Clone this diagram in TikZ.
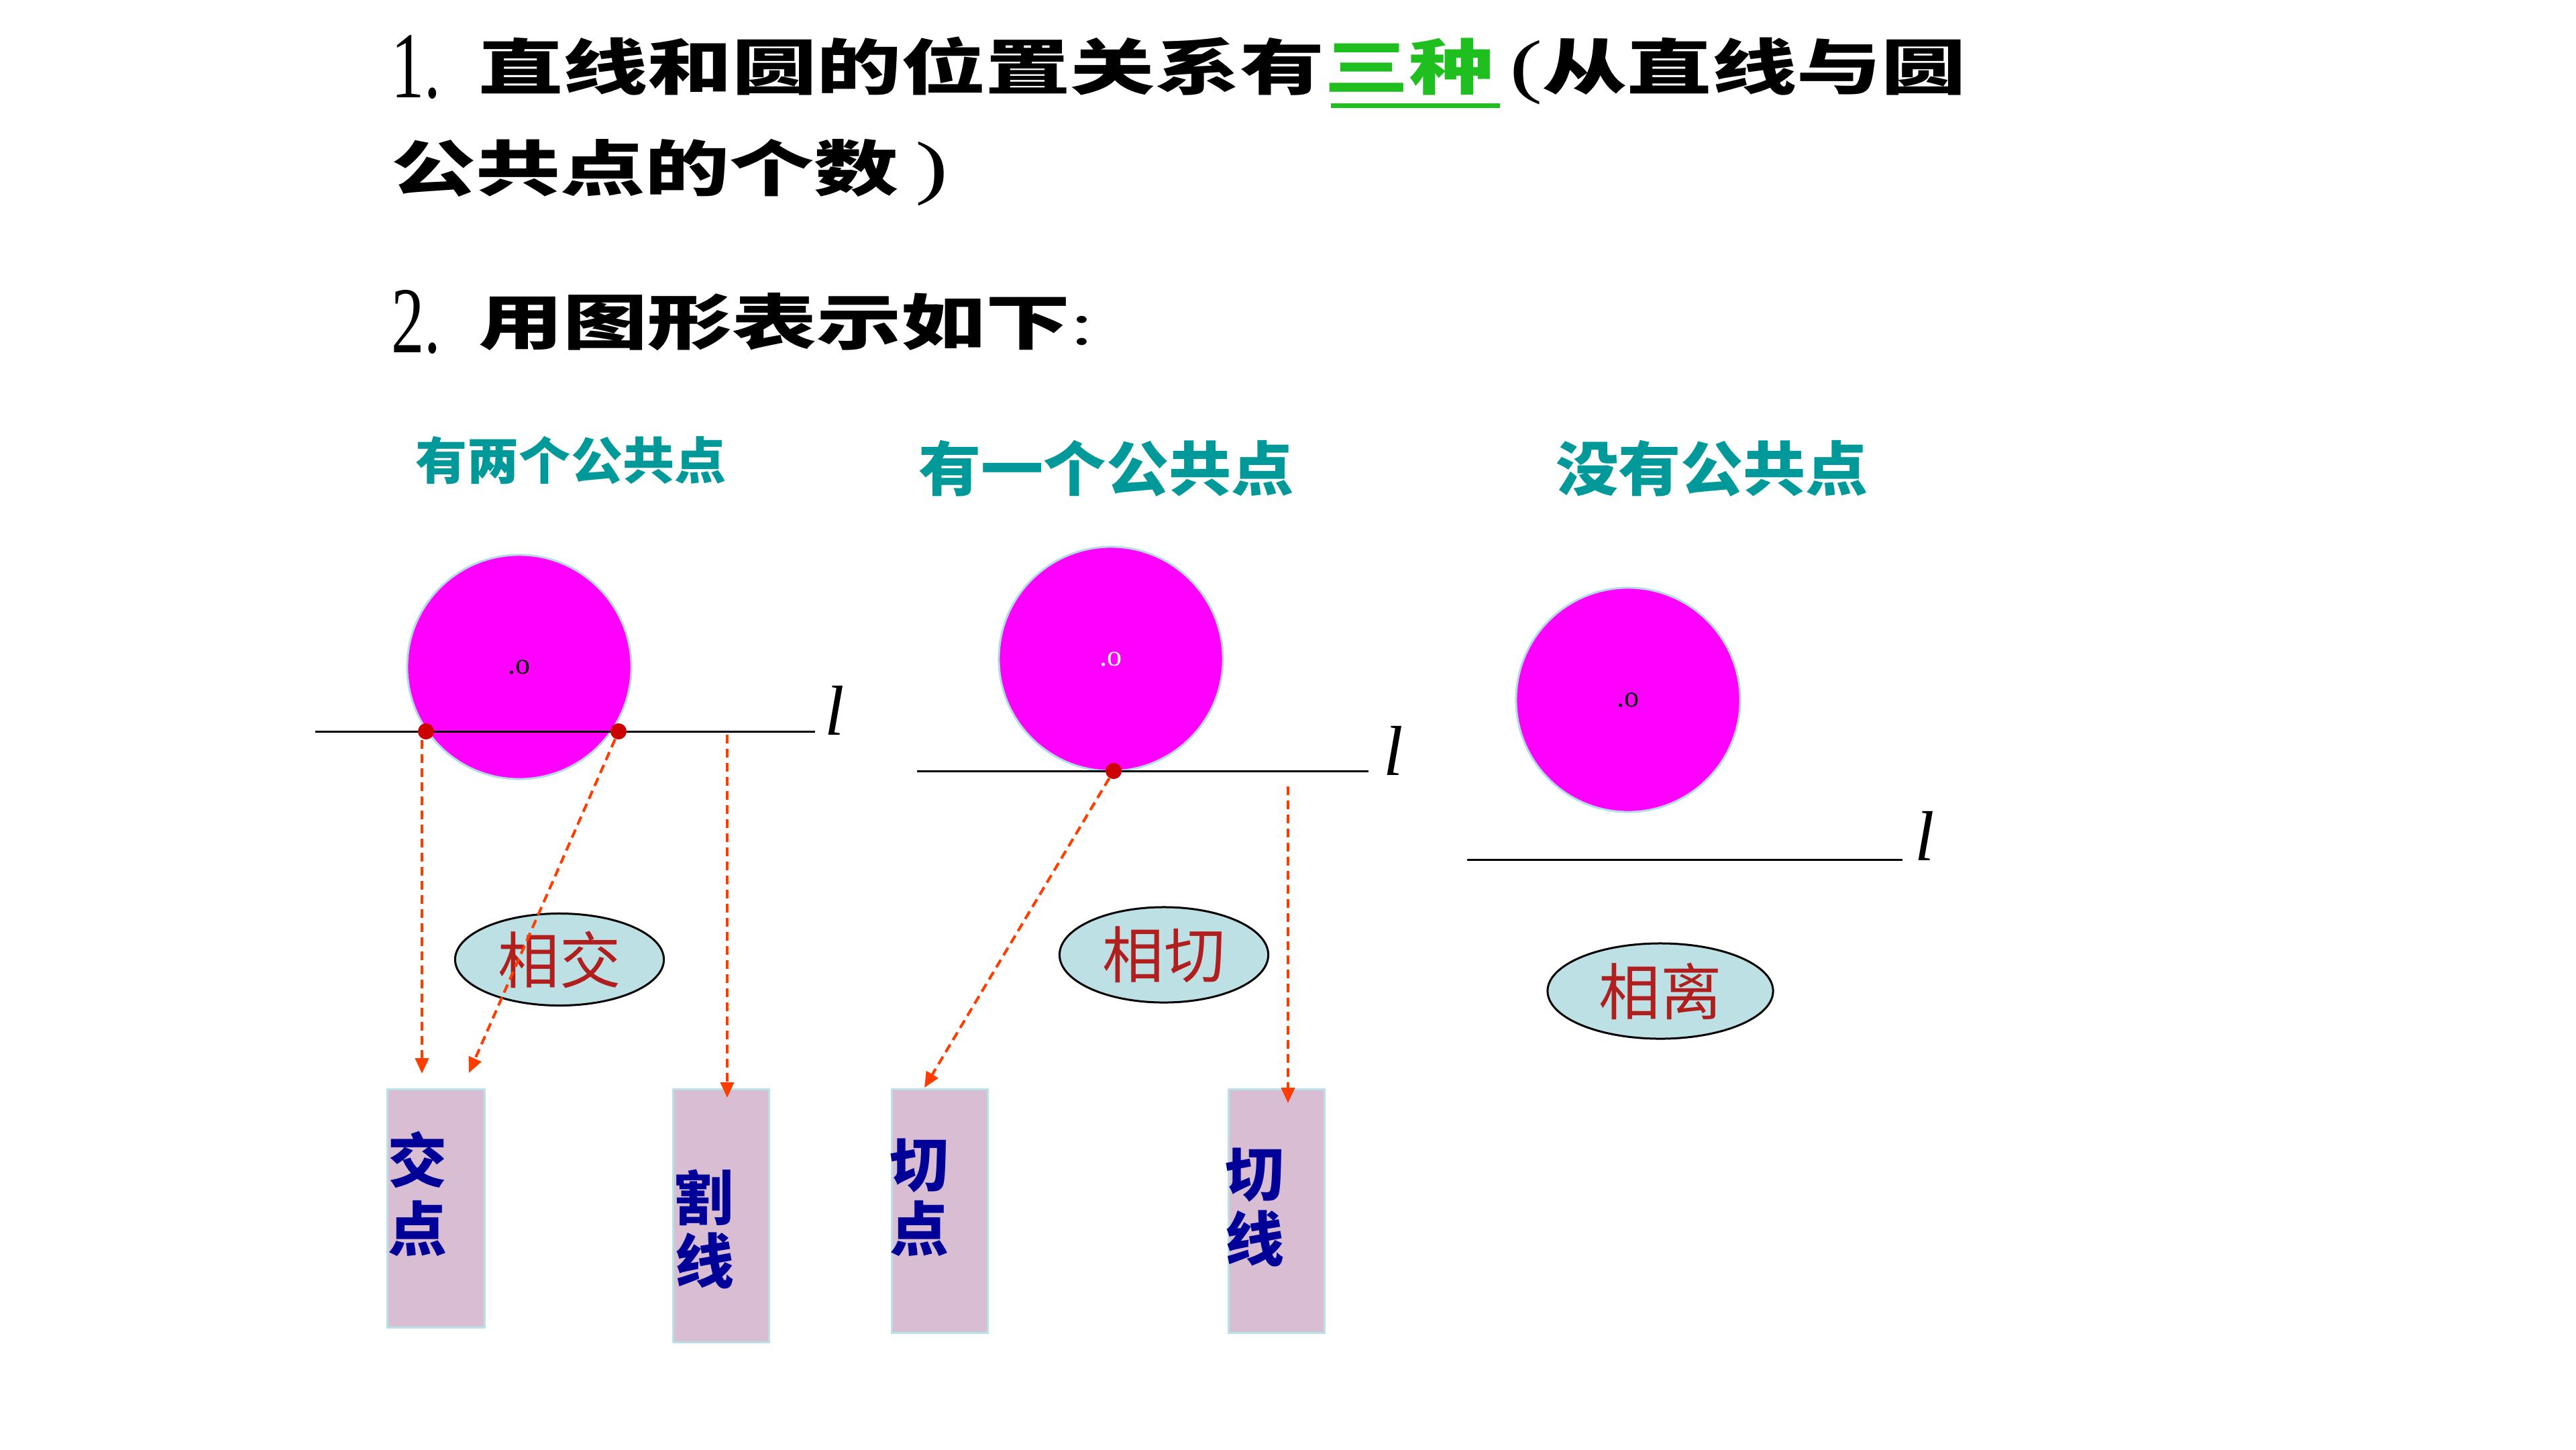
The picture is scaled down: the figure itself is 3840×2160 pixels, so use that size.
\documentclass[tikz,border=0pt]{standalone}
\usepackage{fontspec}
\setmainfont{Liberation Serif}
\newfontfamily\cjk{Noto Sans CJK SC}
\usetikzlibrary{shapes.geometric,arrows.meta}
\definecolor{ballc}{HTML}{FF00FF}
\definecolor{ballrim}{HTML}{B4DCE4}
\definecolor{dotc}{HTML}{CC0000}
\definecolor{arrc}{HTML}{FF3D00}
\definecolor{ovalc}{HTML}{BCE0E3}
\definecolor{boxc}{HTML}{D9BDD3}
\definecolor{boxrim}{HTML}{B9E2E8}
\definecolor{hdrc}{HTML}{009999}
\definecolor{boxtxt}{HTML}{000099}
\definecolor{ovaltxt}{HTML}{B01E1E}
\definecolor{grn}{HTML}{1FBF1F}
\newcommand\myxs[2]{\scalebox{#1}[1]{#2}}
\begin{document}
\begin{tikzpicture}[x=0.01cm,y=-0.01cm,
  title/.style={font=\cjk\bfseries\fontsize{25.6pt}{30pt}\selectfont, inner sep=0, anchor=west},
  num/.style={font=\rmfamily\fontsize{40pt}{40pt}\selectfont, inner sep=0, anchor=west},
  hdrA/.style={font=\cjk\bfseries\fontsize{21.3pt}{24pt}\selectfont, text=hdrc, inner sep=0},
  hdrB/.style={font=\cjk\bfseries\fontsize{25pt}{28pt}\selectfont, text=hdrc, inner sep=0},
  ball/.style={circle, minimum size=3.34cm, inner sep=0, fill=ballc, draw=ballrim, line width=0.03cm, font=\rmfamily\fontsize{12.5pt}{13pt}\selectfont},
  dot/.style={circle, inner sep=0, minimum size=0.24cm, fill=dotc},
  lin/.style={line width=0.03cm, draw=black},
  ltr/.style={font=\rmfamily\itshape\fontsize{30pt}{30pt}\selectfont, inner sep=0},
  arr/.style={draw=arrc, line width=0.04cm, dash pattern=on 0.13cm off 0.08cm, -{Triangle[length=0.23cm,width=0.2cm]}},
  oval/.style={ellipse, draw=black, fill=ovalc, line width=0.03cm, inner sep=0, font=\cjk\fontsize{26pt}{28pt}\selectfont, text=ovaltxt},
  boxn/.style={rectangle, draw=boxrim, fill=boxc, line width=0.03cm, inner sep=0},
  btxt/.style={font=\cjk\bfseries\fontsize{25pt}{28pt}\selectfont, text=boxtxt, inner sep=0}]
\useasboundingbox (0,0) rectangle (3840,2160);
\fill[white] (0,0) rectangle (3840,2160);

% title text
\node[num] (n1) at (583,100) {\myxs{0.7}{1.}};
\node[title] (tl1) at (713,105) {\myxs{1.4}{直线和圆的位置关系有\textcolor{grn}{三种}{\rmfamily\mdseries\fontsize{30pt}{30pt}\selectfont\,(}从直线与圆}};
\draw[grn, line width=0.07cm] (1984,157) -- (2236,157);
\node[title] (tl2) at (583,257) {\myxs{1.4}{公共点的个数{\rmfamily\mdseries\fontsize{30pt}{30pt}\selectfont\,)}}};
\node[num] (n2) at (583,480) {\myxs{0.7}{2.}};
\node[title] (tl3) at (713,480) {\myxs{1.4}{用图形表示如下{\rmfamily\mdseries :}}};

% headers
\node[hdrA] (h1) at (851,686) {\myxs{1.03}{有两个公共点}};
\node[hdrB] (h2) at (1649,698) {\myxs{1.06}{有一个公共点}};
\node[hdrB] (h3) at (2552,698) {\myxs{1.06}{没有公共点}};

% circles
\node[ball] (c1) at (774,994) {.o};
\node[ball, text=white] (c2) at (1656,982) {.o};
\node[ball] (c3) at (2427,1043) {.o};

% lines
\coordinate (a1) at (470,1090); \coordinate (b1) at (1215,1090);
\coordinate (a2) at (1367,1149); \coordinate (b2) at (2040,1149);
\coordinate (a3) at (2187,1281); \coordinate (b3) at (2836,1281);
\draw[lin] (a1) -- (b1);
\draw[lin] (a2) -- (b2);
\draw[lin] (a3) -- (b3);
\node[ltr] (l1) at (1244,1059) {l};
\node[ltr] (l2) at (2077,1119) {l};
\node[ltr] (l3) at (2869,1246) {l};

% contact points
\node[dot] (d1) at (635,1090) {};
\node[dot] (d2) at (922,1090) {};
\node[dot] (d3) at (1660,1149) {};

% ellipses
\node[oval, minimum width=3.11cm, minimum height=1.37cm] (e1) at (834,1430) {相交};
\node[oval, minimum width=3.11cm, minimum height=1.42cm] (e2) at (1735,1423) {相切};
\node[oval, minimum width=3.36cm, minimum height=1.42cm] (e3) at (2475,1477) {相离};

% boxes
\node[boxn, minimum width=1.44cm, minimum height=3.55cm] (bx1) at (650,1801) {};
\node[boxn, minimum width=1.42cm, minimum height=3.77cm] (bx2) at (1075,1812) {};
\node[boxn, minimum width=1.42cm, minimum height=3.62cm] (bx3) at (1401,1805) {};
\node[boxn, minimum width=1.42cm, minimum height=3.62cm] (bx4) at (1903,1805) {};

\node[btxt] (q1a) at (622,1728) {交};
\node[btxt] (q1b) at (622,1831) {点};
\node[btxt] (q2a) at (1048,1785) {割};
\node[btxt] (q2b) at (1050,1879) {线};
\node[btxt] (q3a) at (1370,1737) {切};
\node[btxt] (q3b) at (1370,1831) {点};
\node[btxt] (q4a) at (1870,1751) {切};
\node[btxt] (q4b) at (1870,1846) {线};

% arrows
\coordinate (t1) at (629,1600);
\coordinate (t2) at (699,1599);
\coordinate (s3) at (1084,1095);
\coordinate (t3) at (1084,1636);
\coordinate (t4) at (1378,1621);
\coordinate (s5) at (1920,1172);
\coordinate (t5) at (1920,1644);
\draw[arr] (d1.south -| t1) -- (t1);
\draw[arr] (d2) -- (t2);
\draw[arr] (s3) -- (t3);
\draw[arr] (d3) -- (t4);
\draw[arr] (s5) -- (t5);
\end{tikzpicture}
\end{document}
